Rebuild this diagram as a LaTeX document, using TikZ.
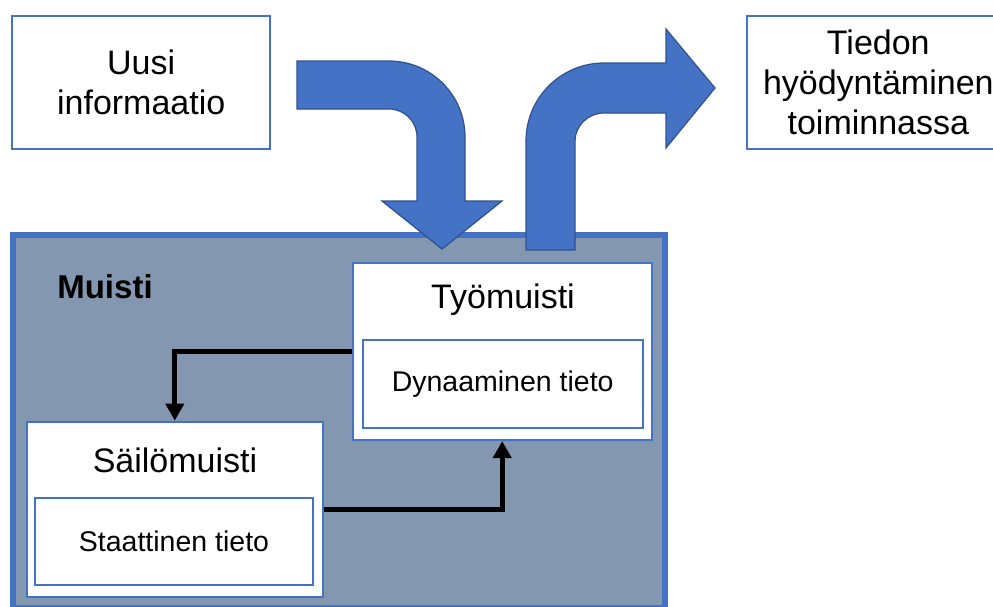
\documentclass[tikz,border=0pt]{standalone}
\usepackage{fontspec}
\setmainfont{Liberation Sans}
\usetikzlibrary{arrows.meta}
\definecolor{boxblue}{HTML}{4472C4}
\definecolor{darkblue}{HTML}{2F528F}
\definecolor{memfill}{HTML}{8497B0}
\tikzset{
  box/.style={draw=boxblue, line width=2.2pt, fill=white, inner sep=0pt},
  bigtxt/.style={font=\fontsize{34}{40}\selectfont, align=center, inner sep=0pt},
  smalltxt/.style={font=\fontsize{28.5}{34}\selectfont},
  conn/.style={line width=5pt, -{Triangle[width=18pt,length=17pt]}},
  bigarrow/.style={fill=boxblue, draw=darkblue, line width=1.2pt, line join=miter},
}
\begin{document}
\begin{tikzpicture}[x=1pt,y=-1pt]
\clip (0,0) rectangle (993,606);
\fill[white] (0,0) rectangle (993,606);
% top boxes
\node[box, bigtxt, minimum width=257.7, minimum height=133.3] (uusi) at (141.2,82.3) {Uusi\\informaatio};
\node[box, bigtxt, minimum width=262, minimum height=133.3] (tiedon) at (878.3,82.3) {Tiedon\\hyödyntäminen\\toiminnassa};
% memory box
\node[draw=boxblue, line width=6pt, fill=memfill, minimum width=652, minimum height=373, inner sep=0pt] (muisti) at (339,421.5) {};
\node[font=\fontsize{33}{40}\selectfont\bfseries, inner sep=0pt] (muistilbl) at (105,287) {Muisti};
% working memory
\node[box, minimum width=299, minimum height=177] (tyo) at (502.2,351.5) {};
\node[bigtxt] (tyolbl) at (503,300) {Työmuisti};
\node[box, smalltxt, minimum width=280, minimum height=88] (dyn) at (502.7,384) {Dynaaminen tieto};
% long-term memory
\node[box, minimum width=296.3, minimum height=175] (sail) at (174.8,509.2) {};
\node[bigtxt] (saillbl) at (175,460) {Säilömuisti};
\node[box, smalltxt, minimum width=278, minimum height=87] (stat) at (174,541.5) {Staattinen tieto};
% connectors
\draw[conn] (tyo.west) -| (sail.north);
\draw[conn] (sail.east) -| (tyo.south);
% big curved arrows
\draw[bigarrow] (297,61) -- (389,61) .. controls (431,61) and (465,95) .. (465,137)
  -- (465,201) -- (502,201) -- (442,249) -- (382,201) -- (417,201) -- (417,137)
  .. controls (417,121.5) and (404.5,109) .. (389,109) -- (297,109) -- cycle;
\draw[bigarrow] (526,250) -- (526,141) .. controls (526,97.9) and (560.9,63) .. (604,63)
  -- (666,63) -- (666,29) -- (715,88) -- (666,148) -- (666,113) -- (604,113)
  .. controls (588,113) and (575,125.9) .. (575,141) -- (575,250) -- cycle;
\end{tikzpicture}
\end{document}
